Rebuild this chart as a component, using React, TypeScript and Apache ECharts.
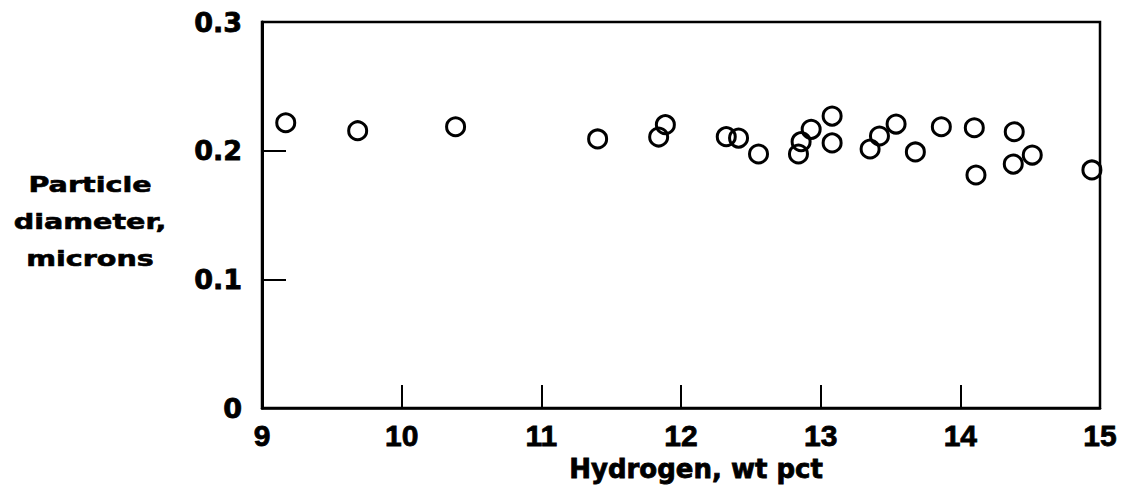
import React, { useEffect, useRef } from "react";
import * as echarts from "echarts";

const hydrogenPct: number[] = [
  9.17, 9.685, 10.386, 11.403, 11.84, 11.888, 12.324, 12.412, 12.555, 12.841,
  12.86, 12.932, 13.082, 13.082, 13.354, 13.421, 13.54, 13.678, 13.864, 14.1,
  14.112, 14.379, 14.386, 14.515, 14.942,
];
const particleDiameter: number[] = [
  0.2217, 0.2155, 0.2186, 0.2091, 0.2106, 0.2202, 0.2109, 0.2098, 0.1974, 0.1974,
  0.207, 0.2166, 0.2269, 0.206, 0.2013, 0.2114, 0.2207, 0.199, 0.2186, 0.2178,
  0.1811, 0.1896, 0.2147, 0.1966, 0.185,
];
const xTitle = "Hydrogen, wt pct";
const yTitleLines = ["Particle", "diameter,", "microns"];

export default function App() {
  const ref = useRef<HTMLDivElement>(null);
  useEffect(() => {
    if (!ref.current) return;
    const chart = echarts.init(ref.current, null, { renderer: "svg" });
    const points = hydrogenPct.map((x, i) => [x, particleDiameter[i]]);
    const heavy = { textBorderColor: "#000", textBorderWidth: 0.8 };
    chart.setOption({
      animation: false,
      backgroundColor: "#ffffff",
      grid: {
        left: 262,
        right: 31,
        top: 22,
        bottom: 85,
        show: true,
        borderColor: "#000",
        borderWidth: 2.5,
        backgroundColor: "transparent",
      },
      xAxis: {
        type: "value",
        min: 9,
        max: 15,
        interval: 1,
        name: xTitle,
        nameLocation: "middle",
        nameGap: 46,
        nameTextStyle: {
          fontFamily: "DejaVu Sans",
          fontWeight: "bold",
          fontSize: 26,
          color: "#000",
          padding: [0, 0, 0, 30],
          ...heavy,
        },
        axisLine: { show: true, onZero: false, lineStyle: { color: "#000", width: 2.5 } },
        axisTick: { show: true, inside: true, length: 23, lineStyle: { color: "#000", width: 2 } },
        axisLabel: {
          margin: 12,
          fontFamily: "Liberation Sans",
          fontWeight: "bold",
          fontSize: 30,
          color: "#000",
          ...heavy,
        },
        splitLine: { show: false },
      },
      yAxis: {
        type: "value",
        min: 0,
        max: 0.3,
        interval: 0.1,
        axisLine: { show: true, onZero: false, lineStyle: { color: "#000", width: 3 } },
        axisTick: { show: true, inside: true, length: 24, lineStyle: { color: "#000", width: 2 } },
        axisLabel: {
          margin: 20,
          fontFamily: "DejaVu Sans",
          fontWeight: "bold",
          fontSize: 27,
          color: "#000",
          ...heavy,
          formatter: (v: number) => (v === 0 ? "0" : v.toFixed(1)),
        },
        splitLine: { show: false },
      },
      graphic: yTitleLines.map((t, i) => ({
        type: "text",
        x: 90,
        y: 184 + i * 37,
        scaleX: 1.3,
        style: {
          text: t,
          fontFamily: "DejaVu Sans",
          fontWeight: "bold",
          fontSize: 22,
          fill: "#000",
          stroke: "#000",
          lineWidth: 0.6,
          align: "center",
          verticalAlign: "middle",
        },
      })),
      series: [
        {
          type: "scatter",
          data: points,
          symbol: "circle",
          symbolSize: 18,
          itemStyle: { color: "transparent", borderColor: "#000", borderWidth: 3, opacity: 1 },
        },
      ],
    });
    return () => chart.dispose();
  }, []);
  return (
    <div
      ref={ref}
      style={{ position: "fixed", left: 0, top: 0, width: 1131, height: 493, background: "#fff" }}
    />
  );
}
